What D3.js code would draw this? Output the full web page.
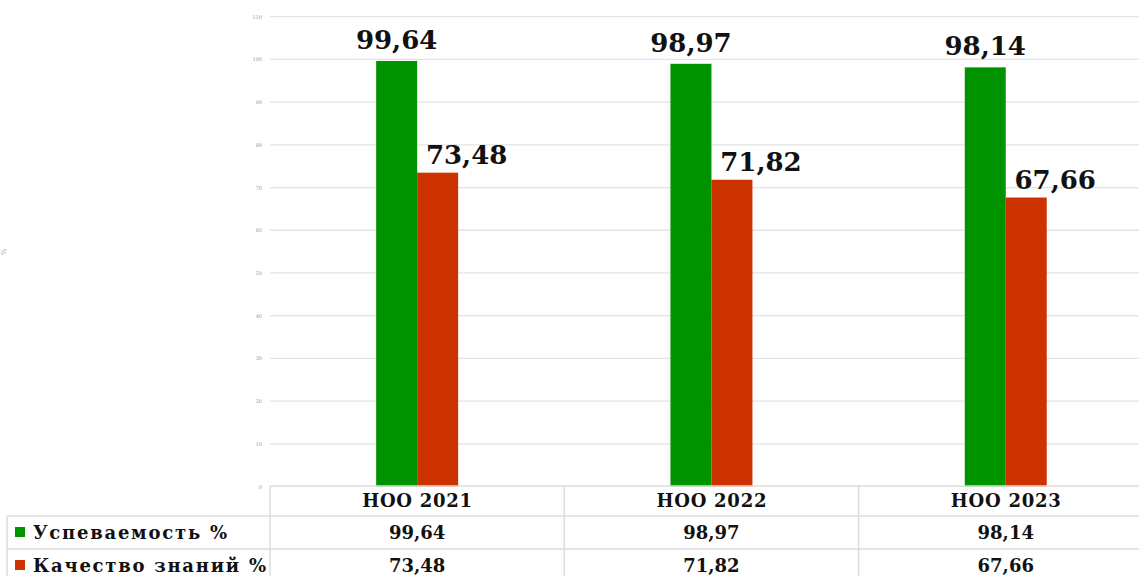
<!DOCTYPE html>
<html>
<head>
<meta charset="utf-8">
<script src="https://cdn.jsdelivr.net/npm/d3@7"></script>
<style>
  body { margin: 0; background: #fff; }
  svg { display: block; }
</style>
</head>
<body>
<div id="visHolder"></div>
<script>
var categories = ["НОО 2021", "НОО 2022", "НОО 2023"];
var seriesNames = ["Успеваемость %", "Качество знаний %"];
var uspev = [99.64, 98.97, 98.14];
var kachestvo = [73.48, 71.82, 67.66];
var yTicks = [0, 10, 20, 30, 40, 50, 60, 70, 80, 90, 100, 110];

var width = 1139;
var height = 576;
var colors = ["#009300", "#cc3300"];
var labelShift = [0, 29];   // the red labels sit right of their bars
var labelLift = [12, 9];
var nameWidth = [194, 233];

var series = [uspev, kachestvo];
var locale = d3.formatLocale({ decimal: ",", thousands: " ", grouping: [3] });
var fmt = locale.format(".2f");

var svg = d3.select("#visHolder")
  .append("svg")
  .attr("width", width)
  .attr("height", height);

var plotLeft = 270;
var x = d3.scaleBand()
  .domain(categories)
  .range([plotLeft, plotLeft + 3 * 294.3]);

var xSub = d3.scaleBand()
  .domain(seriesNames)
  .range([0, x.bandwidth()])
  .paddingOuter(2.59);

var y = d3.scaleLinear()
  .domain([0, 110])
  .range([486.5, 16.7]);

// grid
svg.append("g")
  .selectAll("line")
  .data(yTicks.slice(1))
  .enter()
  .append("line")
  .attr("x1", plotLeft)
  .attr("x2", width)
  .attr("y1", d => y(d))
  .attr("y2", d => y(d))
  .attr("stroke", "#e3e3e3")
  .attr("stroke-width", 1.3);

// y axis labels
svg.append("g")
  .selectAll("text")
  .data(yTicks)
  .enter()
  .append("text")
  .attr("x", 262)
  .attr("y", d => y(d) + 2)
  .attr("text-anchor", "end")
  .attr("font-family", "DejaVu Serif")
  .attr("font-size", "5px")
  .attr("fill", "#999")
  .text(d => d);

// bars
var groups = svg.append("g")
  .selectAll("g")
  .data(series)
  .enter()
  .append("g")
  .attr("fill", (d, i) => colors[i]);

groups.each(function (vals, si) {
  var g = d3.select(this);
  g.selectAll("rect")
    .data(vals)
    .enter()
    .append("rect")
    .attr("x", (d, i) => x(categories[i]) + xSub(seriesNames[si]))
    .attr("width", xSub.bandwidth())
    .attr("y", d => y(d))
    .attr("height", d => y(0) - y(d));

  g.selectAll("text")
    .data(vals)
    .enter()
    .append("text")
    .attr("x", (d, i) => x(categories[i]) + xSub(seriesNames[si]) + xSub.bandwidth() / 2 + labelShift[si])
    .attr("y", d => y(d) - labelLift[si])
    .attr("text-anchor", "middle")
    .attr("font-family", "DejaVu Serif")
    .attr("font-weight", "bold")
    .attr("font-size", "26px")
    .attr("fill", "#111")
    .text(d => fmt(d));
});

// data table
var rowTop = [486, 516, 549];
var tableLeft = 7;
var grid = "#dcdcdc";

var tbl = svg.append("g").attr("stroke", grid).attr("stroke-width", 1.5);
tbl.append("line").attr("x1", plotLeft).attr("x2", width).attr("y1", rowTop[0]).attr("y2", rowTop[0]);
tbl.append("line").attr("x1", tableLeft).attr("x2", width).attr("y1", rowTop[1]).attr("y2", rowTop[1]);
tbl.append("line").attr("x1", tableLeft).attr("x2", width).attr("y1", rowTop[2]).attr("y2", rowTop[2]);
tbl.append("line").attr("x1", tableLeft).attr("x2", tableLeft).attr("y1", rowTop[1]).attr("y2", height);
tbl.selectAll(".col")
  .data(categories)
  .enter()
  .append("line")
  .attr("x1", d => x(d))
  .attr("x2", d => x(d))
  .attr("y1", rowTop[0])
  .attr("y2", height);

// header row
svg.append("g")
  .selectAll("text")
  .data(categories)
  .enter()
  .append("text")
  .attr("x", d => x(d) + x.bandwidth() / 2)
  .attr("y", rowTop[0] + 21)
  .attr("text-anchor", "middle")
  .attr("font-family", "DejaVu Serif")
  .attr("font-weight", "bold")
  .attr("font-size", "18px")
  .attr("textLength", 110)
  .attr("lengthAdjust", "spacing")
  .attr("fill", "#111")
  .text(d => d);

// series rows
series.forEach(function (vals, si) {
  var top = rowTop[si + 1];
  svg.append("rect")
    .attr("x", 15)
    .attr("y", top + 11)
    .attr("width", 10)
    .attr("height", 10)
    .attr("fill", colors[si]);
  svg.append("text")
    .attr("x", 33)
    .attr("y", top + 23)
    .attr("font-family", "DejaVu Serif")
    .attr("font-weight", "bold")
    .attr("font-size", "18px")
    .attr("textLength", nameWidth[si])
    .attr("lengthAdjust", "spacing")
    .attr("fill", "#111")
    .text(seriesNames[si]);
  svg.append("g")
    .selectAll("text")
    .data(vals)
    .enter()
    .append("text")
    .attr("x", (d, i) => x(categories[i]) + x.bandwidth() / 2)
    .attr("y", top + 23)
    .attr("text-anchor", "middle")
    .attr("font-family", "DejaVu Serif")
    .attr("font-weight", "bold")
    .attr("font-size", "18px")
    .attr("fill", "#111")
    .text(d => fmt(d));
});

// clipped axis title remnant at the far left
svg.append("text")
  .attr("transform", "translate(6,252) rotate(-90)")
  .attr("text-anchor", "middle")
  .attr("font-family", "DejaVu Serif")
  .attr("font-size", "7px")
  .attr("fill", "#aaa")
  .text("%");
</script>
</body>
</html>
